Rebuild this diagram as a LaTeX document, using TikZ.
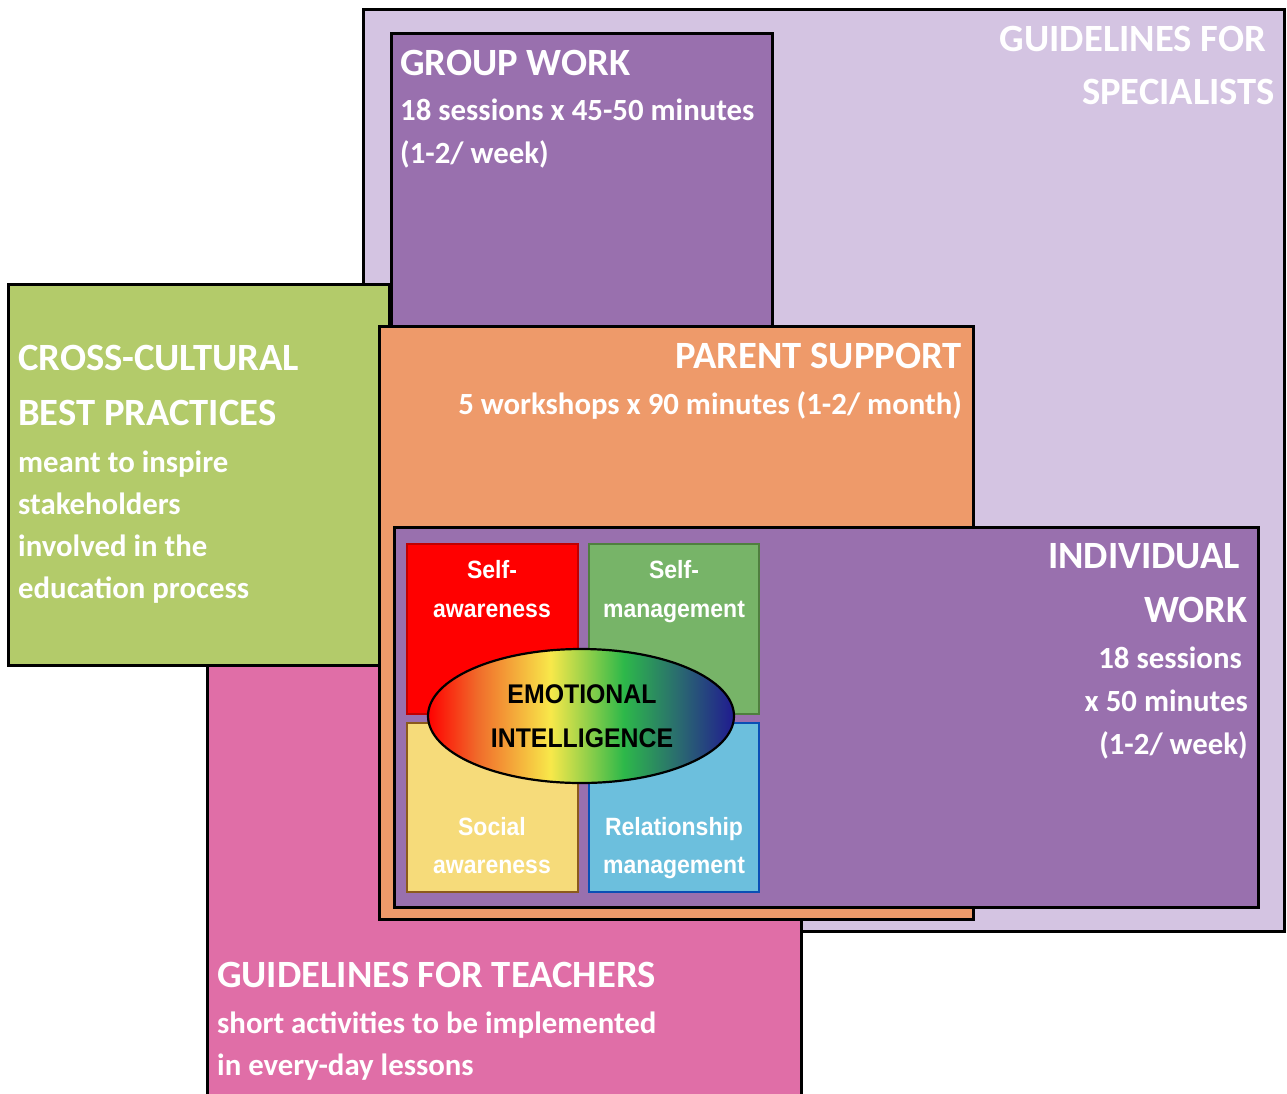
\documentclass[tikz,border=0pt]{standalone}
\usepackage{fontspec}
\newfontfamily\carl{Carlito}
\newfontfamily\narrowfnt[FakeStretch=0.92]{Liberation Sans}
\definecolor{specbg}{HTML}{D4C4E2}
\definecolor{purp}{HTML}{9970AE}
\definecolor{lime}{HTML}{B3CB6A}
\definecolor{orng}{HTML}{EE9A6A}
\definecolor{pink}{HTML}{E06EA7}
\definecolor{sqred}{HTML}{FF0000}
\definecolor{sqredb}{HTML}{C00000}
\definecolor{sqgreen}{HTML}{77B468}
\definecolor{sqgreenb}{HTML}{4F7F3F}
\definecolor{sqyel}{HTML}{F6DB7A}
\definecolor{sqyelb}{HTML}{8B5A1C}
\definecolor{sqblue}{HTML}{6CBFDD}
\definecolor{sqblueb}{HTML}{0A4FB5}
\definecolor{eiorange}{HTML}{F06A2A}
\definecolor{eiyellow}{HTML}{F8E84A}
\definecolor{eigreen}{HTML}{2DB84A}
\definecolor{eiteal}{HTML}{2A6A70}
\definecolor{einavy}{HTML}{201A90}
\pgfdeclarehorizontalshading{rainbowEI}{100bp}{color(0bp)=(sqred); color(25bp)=(sqred); color(33bp)=(eiorange); color(45bp)=(eiyellow); color(57bp)=(eigreen); color(66bp)=(eiteal); color(75bp)=(einavy); color(100bp)=(einavy)}
\begin{document}
\begin{tikzpicture}[x=1pt,y=-1pt,
  box/.style={draw=black, line width=3pt},
  sq/.style={line width=2.2pt},
  ttl/.style={font=\carl\bfseries\fontsize{38.6}{38.6}\selectfont, text=white, inner sep=0pt},
  bdy/.style={font=\carl\bfseries\fontsize{30.8}{30.8}\selectfont, text=white, inner sep=0pt},
  sqt/.style={font=\narrowfnt\bfseries\fontsize{25}{25}\selectfont, text=white, inner sep=0pt, anchor=base},
  eit/.style={font=\narrowfnt\bfseries\fontsize{27}{27}\selectfont, text=black, inner sep=0pt, anchor=base}]
\useasboundingbox (0,0) rectangle (1287,1093);
\clip (0,0) rectangle (1287,1093);
% layers
\path[box, fill=specbg] (363,9) rectangle (1284,931);
\path[box, fill=purp] (391,33) rectangle (772,330);
\path[box, fill=pink] (207,500) rectangle (801,1110);
\path[box, fill=lime] (8,284) rectangle (389,665);
\path[box, fill=orng] (379,326) rectangle (973,919);
\path[box, fill=purp] (394,527) rectangle (1258,907);
\path[sq, fill=sqred, draw=sqredb] (407,544) rectangle (578,714);
\path[sq, fill=sqgreen, draw=sqgreenb] (589,544) rectangle (759,714);
\path[sq, fill=sqyel, draw=sqyelb] (407,723) rectangle (578,892);
\path[sq, fill=sqblue, draw=sqblueb] (589,723) rectangle (759,892);
\path[draw=black, line width=2.2pt, shading=rainbowEI] (581,716) ellipse [x radius=153pt, y radius=67pt];
% specialists
\node[ttl, anchor=base east] (spec1) at (1266,51) {GUIDELINES FOR};
\node[ttl, anchor=base east] (spec2) at (1275,104) {SPECIALISTS};
% group work
\node[ttl, anchor=base west] (gw1) at (400,75) {GROUP WORK};
\node[bdy, anchor=base west] (gw2) at (400,120) {18 sessions x 45-50 minutes};
\node[bdy, anchor=base west] (gw3) at (400,163) {(1-2/ week)};
% cross-cultural
\node[ttl, anchor=base west] (cc1) at (18,370) {CROSS-CULTURAL};
\node[ttl, anchor=base west] (cc2) at (18,425) {BEST PRACTICES};
\node[bdy, anchor=base west] (cc3) at (18,472) {meant to inspire};
\node[bdy, anchor=base west] (cc4) at (18,514) {stakeholders};
\node[bdy, anchor=base west] (cc5) at (18,556) {involved in the};
\node[bdy, anchor=base west] (cc6) at (18,598) {education process};
% parent support
\node[ttl, anchor=base east] (ps1) at (962,368) {PARENT SUPPORT};
\node[bdy, anchor=base east] (ps2) at (962,414) {5 workshops x 90 minutes (1-2/ month)};
% individual work
\node[ttl, anchor=base east] (iw1) at (1240,568) {INDIVIDUAL};
\node[ttl, anchor=base east] (iw2) at (1248,622) {WORK};
\node[bdy, anchor=base east] (iw3) at (1242,668) {18 sessions};
\node[bdy, anchor=base east] (iw4) at (1248,711) {x 50 minutes};
\node[bdy, anchor=base east] (iw5) at (1248,754) {(1-2/ week)};
% teachers
\node[ttl, anchor=base west] (gt1) at (217,987) {GUIDELINES FOR TEACHERS};
\node[bdy, anchor=base west] (gt2) at (217,1033) {short activities to be implemented};
\node[bdy, anchor=base west] (gt3) at (217,1075) {in every-day lessons};
% squares
\node[sqt] (sa1) at (492,578) {Self-};
\node[sqt] (sa2) at (492,617) {awareness};
\node[sqt] (sm1) at (674,578) {Self-};
\node[sqt] (sm2) at (674,617) {management};
\node[sqt] (so1) at (492,835) {Social};
\node[sqt] (so2) at (492,873) {awareness};
\node[sqt] (rm1) at (674,835) {Relationship};
\node[sqt] (rm2) at (674,873) {management};
% ellipse
\node[eit] (ei1) at (582,703) {EMOTIONAL};
\node[eit] (ei2) at (582,747) {INTELLIGENCE};
\end{tikzpicture}
\end{document}
